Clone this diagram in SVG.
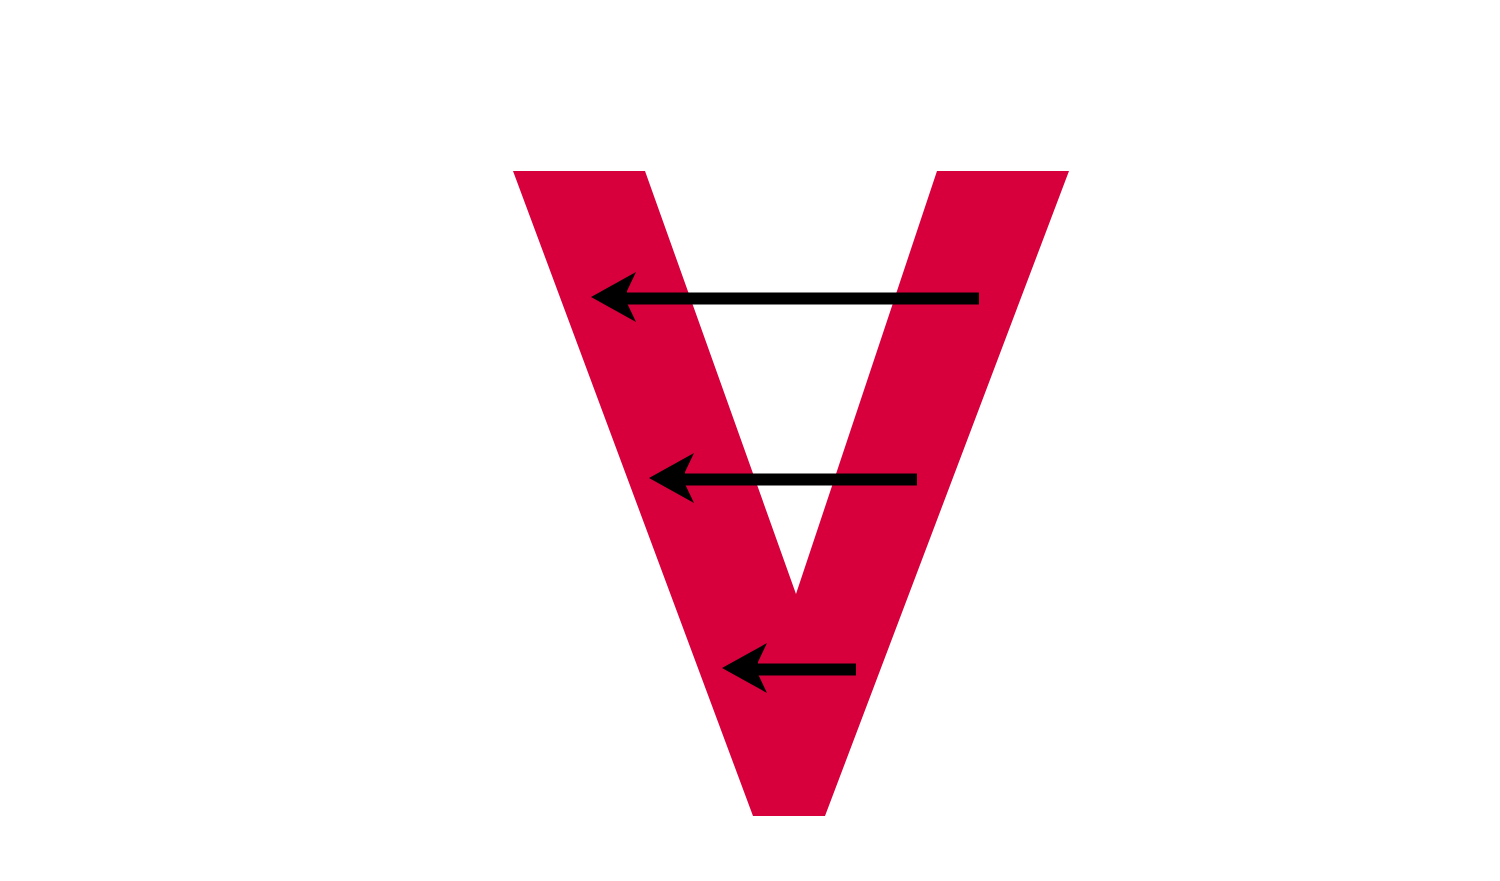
<svg xmlns="http://www.w3.org/2000/svg" width="1500" height="881" viewBox="0 0 1500 881">
<style>
.v{fill:#d8003c}
.ln{stroke:#000;stroke-width:12;fill:none}
.hd{fill:#000}
</style>
<defs>
<path id="head" d="M0,0 L45,-25 L36,-6 L36,6 L45,25 Z"/>
</defs>
<rect width="1500" height="881" fill="#fff"/>
<g id="v-shape">
<polygon class="v" points="513,171 645,171 796,594 937,171 1069,171 825,816 753,816"/>
</g>
<g id="connectors">
<line class="ln" x1="979" y1="298.5" x2="626" y2="298.5"/>
<use href="#head" class="hd" x="591" y="297"/>
<line class="ln" x1="917" y1="479.5" x2="684" y2="479.5"/>
<use href="#head" class="hd" x="649" y="478"/>
<line class="ln" x1="856" y1="669.5" x2="757" y2="669.5"/>
<use href="#head" class="hd" x="722" y="668"/>
</g>
</svg>
